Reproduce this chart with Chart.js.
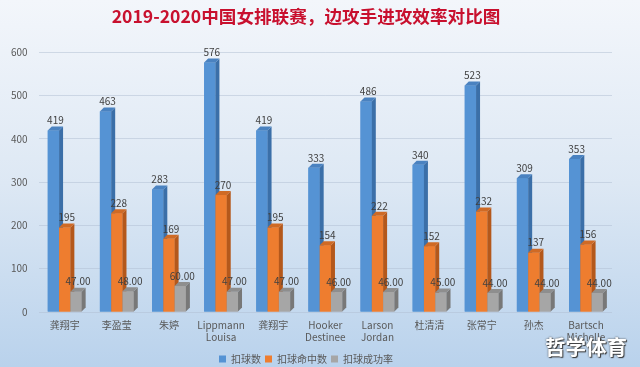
<!DOCTYPE html>
<html>
<head>
<meta charset="utf-8">
<script src="https://cdn.jsdelivr.net/npm/chart.js@4"></script>
<style>
html, body { margin: 0; padding: 0; width: 640px; height: 367px; overflow: hidden; background: #d6e4f3; }
#wrap { position: relative; width: 640px; height: 367px; }
#wm { position: absolute; left: 545px; top: 331px; font: bold 20.5px 'Noto Sans CJK SC', sans-serif; color: #fff;
      text-shadow: 0 0 2px #444, 1px 1px 1px #333; }
</style>
</head>
<body>
<div id="wrap">
  <canvas id="c" width="640" height="367"></canvas>
  <div id="wm">哲学体育</div>
</div>
<script>
// ---- DADOS ----
var players = [['龚翔宇'], ['李盈莹'], ['朱婷'], ['Lippmann', 'Louisa'], ['龚翔宇'], ['Hooker', 'Destinee'],
               ['Larson', 'Jordan'], ['杜清清'], ['张常宁'], ['孙杰'], ['Bartsch', 'Michelle']];
var spikes  = [419, 463, 283, 576, 419, 333, 486, 340, 523, 309, 353];
var hits    = [195, 228, 169, 270, 195, 154, 222, 152, 232, 137, 156];
var rates   = [47, 48, 60, 47, 47, 46, 46, 45, 44, 44, 44];
var yTicks  = [0, 100, 200, 300, 400, 500, 600];

var FONT = "'Noto Sans CJK SC', sans-serif";
var front = ['#5593d4', '#ee7d2f', '#a6a6a6'];
var side  = ['#3b6fa8', '#b4581b', '#787878'];
var top_  = ['#4a82c0', '#cf6a25', '#8e8e8e'];
var DEPTH = 4;

// ---- FUNDO GRADIENTE ----
var bgPlugin = {
  id: 'bg',
  beforeDraw: function(chart) {
    var c = chart.ctx;
    var g = c.createLinearGradient(0, 0, 0, chart.height);
    g.addColorStop(0, '#f3f6fb');
    g.addColorStop(0.5, '#dde8f4');
    g.addColorStop(1, '#b9d2ec');
    c.save();
    c.fillStyle = g;
    c.fillRect(0, 0, chart.width, chart.height);
    c.restore();
  }
};

// ---- BARRAS 3D + RÓTULOS ----
var bar3dPlugin = {
  id: 'bar3d',
  afterDatasetsDraw: function(chart) {
    var c = chart.ctx;
    var d = DEPTH;
    c.save();
    chart.data.datasets.forEach(function(ds, i) {
      chart.getDatasetMeta(i).data.forEach(function(el) {
        var p = el.getProps(['x', 'y', 'base', 'width'], true);
        var l = p.x - p.width / 2, r = p.x + p.width / 2;
        c.fillStyle = front[i];
        c.fillRect(l, p.y, p.width, p.base - p.y);
        // lateral
        c.fillStyle = side[i];
        c.beginPath();
        c.moveTo(r, p.y); c.lineTo(r + d, p.y - d); c.lineTo(r + d, p.base - d); c.lineTo(r, p.base);
        c.closePath(); c.fill();
        // topo
        c.fillStyle = top_[i];
        c.beginPath();
        c.moveTo(l, p.y); c.lineTo(l + d, p.y - d); c.lineTo(r + d, p.y - d); c.lineTo(r, p.y);
        c.closePath(); c.fill();
      });
    });
    c.fillStyle = '#404040';
    c.font = '10px ' + FONT;
    c.textAlign = 'center';
    c.textBaseline = 'bottom';
    chart.data.datasets.forEach(function(ds, i) {
      chart.getDatasetMeta(i).data.forEach(function(el, j) {
        var p = el.getProps(['x', 'y'], true);
        var v = ds.data[j];
        var txt = i === 2 ? v.toFixed(2) : String(v);
        c.fillText(txt, p.x + d / 2, p.y - d - 1);
      });
    });
    c.restore();
  }
};

new Chart(document.getElementById('c'), {
  type: 'bar',
  data: {
    labels: players,
    datasets: [
      { label: '扣球数',     data: spikes, backgroundColor: front[0] },
      { label: '扣球命中数', data: hits,   backgroundColor: front[1] },
      { label: '扣球成功率', data: rates,  backgroundColor: front[2] }
    ]
  },
  plugins: [bgPlugin, bar3dPlugin],
  options: {
    responsive: false,
    animation: false,
    layout: { padding: { left: 0, right: 28, top: 0, bottom: -7 } },
    datasets: { bar: { categoryPercentage: 0.65, barPercentage: 1 } },
    plugins: {
      title: {
        display: true,
        text: '2019-2020中国女排联赛，边攻手进攻效率对比图',
        color: '#c8102e',
        font: { family: FONT, size: 17.6, weight: 'bold' },
        padding: { top: 6, bottom: 25 }
      },
      legend: {
        position: 'bottom',
        labels: { boxWidth: 7, boxHeight: 7, padding: 4, color: '#595959', font: { family: FONT, size: 10 } }
      },
      tooltip: { enabled: false }
    },
    scales: {
      x: {
        grid: { display: false, drawTicks: false },
        border: { display: false },
        ticks: { color: '#595959', font: { family: FONT, size: 10, lineHeight: 1.2 }, maxRotation: 0, autoSkip: false, padding: 7 }
      },
      y: {
        min: 0, max: 600,
        afterBuildTicks: function(s) { s.ticks = yTicks.map(function(v) { return { value: v }; }); },
        grid: { color: 'rgba(175,190,210,0.5)', drawTicks: false },
        border: { display: false },
        ticks: { color: '#595959', font: { family: FONT, size: 10 }, padding: 11 }
      }
    }
  }
});
</script>
</body>
</html>
